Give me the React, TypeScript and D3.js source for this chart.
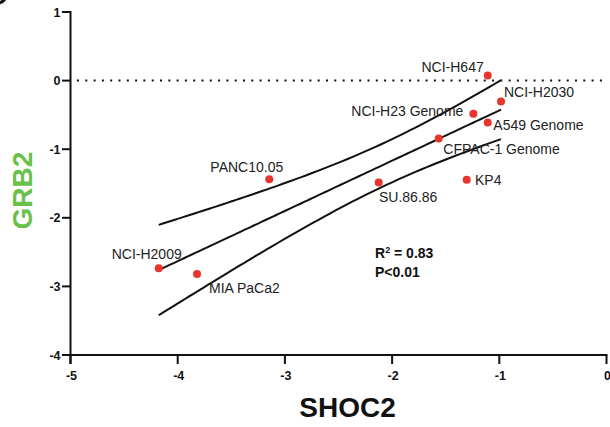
import React from "react";
import * as d3 from "d3";

const cellLines = ["NCI-H647", "NCI-H2030", "NCI-H23 Genome", "A549 Genome", "CFPAC-1 Genome", "KP4", "SU.86.86", "PANC10.05", "NCI-H2009", "MIA PaCa2"];
const shoc2 = [-1.108, -0.984, -1.242, -1.108, -1.565, -1.304, -2.125, -3.146, -4.177, -3.82];
const grb2 = [0.073, -0.306, -0.485, -0.612, -0.845, -1.447, -1.487, -1.437, -2.735, -2.818];
const xTicks = [-5, -4, -3, -2, -1, 0];
const yTicks = [1, 0, -1, -2, -3, -4];

// label placement (anchor, dx, dy) relative to each point
const labelPlace: Record<string, [string, number, number]> = {
  "NCI-H647": ["end", -4, -4],
  "NCI-H2030": ["start", 3, -4.4],
  "NCI-H23 Genome": ["end", -10, 1.7],
  "A549 Genome": ["start", 5.6, 7.3],
  "CFPAC-1 Genome": ["start", 4.6, 15.3],
  "KP4": ["start", 8.3, 5],
  "SU.86.86": ["start", 0.3, 19],
  "PANC10.05": ["end", 14, -7.6],
  "NCI-H2009": ["end", 23, -9],
  "MIA PaCa2": ["start", 12, 18.7],
};

export default function App() {
  const x = d3.scaleLinear().domain([-5, 0]).range([70.5, 606.5]);
  const y = d3.scaleLinear().domain([-4, 1]).range([355, 12]);

  const n = shoc2.length;
  const mx = d3.mean(shoc2) as number;
  const my = d3.mean(grb2) as number;
  let sxx = 0, sxy = 0, syy = 0;
  for (let i = 0; i < n; i++) {
    sxx += (shoc2[i] - mx) ** 2;
    sxy += (shoc2[i] - mx) * (grb2[i] - my);
    syy += (grb2[i] - my) ** 2;
  }
  const slope = sxy / sxx;
  const icpt = my - slope * mx;
  const s = Math.sqrt((syy - slope * sxy) / (n - 2));
  const t = 2.306;
  const [x0, x1] = d3.extent(shoc2) as [number, number];
  const xs = d3.range(0, 61).map((k) => x0 + ((x1 - x0) * k) / 60);
  const band = (xv: number) => t * s * Math.sqrt(1 / n + (xv - mx) ** 2 / sxx);
  const line = d3
    .line<[number, number]>()
    .x((d) => x(d[0]))
    .y((d) => y(d[1]))
    .curve(d3.curveMonotoneX);
  const fit = line(xs.map((v) => [v, icpt + slope * v]));
  const upper = line(xs.map((v) => [v, icpt + slope * v + band(v)]));
  const lower = line(xs.map((v) => [v, icpt + slope * v - band(v)]));

  const font = "'Liberation Sans', Arial, Helvetica, sans-serif";

  return (
    <div style={{ position: "fixed", left: 0, top: 0 }}>
      <svg width={610} height={427} style={{ display: "block", background: "#fff" }} fontFamily={font}>
        <circle cx={-3} cy={-7} r={10} fill="none" stroke="#111" strokeWidth={3} />
        {/* zero dotted line */}
        <line x1={77} x2={606} y1={y(0)} y2={y(0)} stroke="#111" strokeWidth={2} strokeDasharray="2 6.3" />
        {/* axes */}
        <line x1={x(-5)} x2={x(-5)} y1={y(1) - 1} y2={y(-4) + 9} stroke="#111" strokeWidth={2} />
        <line x1={x(-5)} x2={x(0) + 1} y1={y(-4)} y2={y(-4)} stroke="#111" strokeWidth={2} />
        {yTicks.map((v) => (
          <g key={"y" + v}>
            <line x1={x(-5) - 8.5} x2={x(-5)} y1={y(v)} y2={y(v)} stroke="#111" strokeWidth={2} />
            <text x={60.5} y={y(v)} dy="0.36em" textAnchor="end" fontSize={12.5} fontWeight="bold" fill="#111">
              {v}
            </text>
          </g>
        ))}
        {xTicks.map((v) => (
          <g key={"x" + v}>
            <line x1={x(v)} x2={x(v)} y1={y(-4)} y2={y(-4) + 9} stroke="#111" strokeWidth={2} />
            <text x={x(v) + 1} y={380} textAnchor="middle" fontSize={12.5} fontWeight="bold" fill="#111">
              {v}
            </text>
          </g>
        ))}
        <text x={347.5} y={416.7} textAnchor="middle" fontSize={28} fontWeight="bold" fill="#111">
          SHOC2
        </text>
        <text
          transform="translate(31.7,190.7) rotate(-90)"
          textAnchor="middle"
          fontSize={28}
          fontWeight="bold"
          fill="#69c04b"
        >
          GRB2
        </text>
        {/* regression and confidence band */}
        <path d={upper || ""} fill="none" stroke="#111" strokeWidth={2} />
        <path d={fit || ""} fill="none" stroke="#111" strokeWidth={2} />
        <path d={lower || ""} fill="none" stroke="#111" strokeWidth={2} />
        {/* points */}
        {cellLines.map((name, i) => {
          const px = x(shoc2[i]);
          const py = y(grb2[i]);
          const [anchor, dx, dy] = labelPlace[name];
          return (
            <g key={name}>
              <circle cx={px} cy={py} r={4} fill="#e8352b" />
              <text x={px + dx} y={py + dy} textAnchor={anchor as any} fontSize={14} fill="#222">
                {name}
              </text>
            </g>
          );
        })}
        <text x={375} y={258.3} fontSize={14} fontWeight="bold" fill="#111">
          R<tspan fontSize={9} dy={-5}>2</tspan>
          <tspan dy={5}> = 0.83</tspan>
        </text>
        <text x={375} y={276.5} fontSize={14} fontWeight="bold" fill="#111">
          P&lt;0.01
        </text>
      </svg>
    </div>
  );
}
